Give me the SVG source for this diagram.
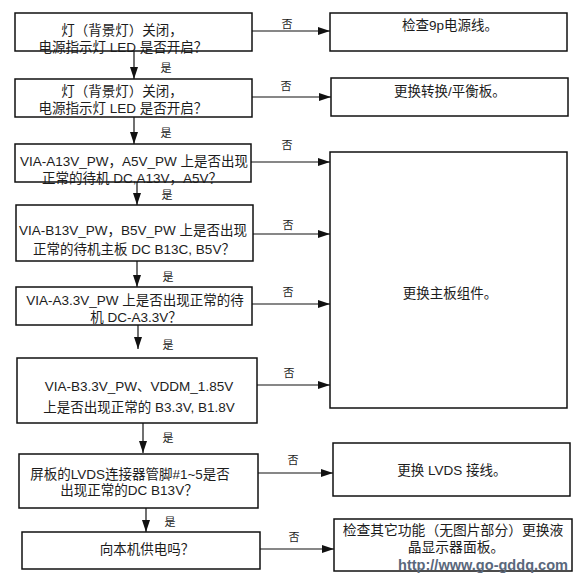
<svg xmlns="http://www.w3.org/2000/svg" width="578" height="581" viewBox="0 0 578 581">
<style>
.box{fill:#fff;stroke:#111;stroke-width:1.5}
.t{font-family:"Liberation Sans","Noto Sans CJK SC",sans-serif;font-size:13.5px;fill:#1c1c1c;text-anchor:middle}
.lbl{font-family:"Liberation Sans","Noto Sans CJK SC",sans-serif;font-size:11px;fill:#1c1c1c;text-anchor:middle}
.c{stroke:#111;stroke-width:1.2;fill:none;marker-end:url(#ah)}
.wm{font-family:"Liberation Sans",sans-serif;font-weight:bold;font-size:14.5px;fill:#5a687c}
</style>
<defs>
<marker id="ah" markerUnits="userSpaceOnUse" markerWidth="12" markerHeight="8" refX="12" refY="4" orient="auto">
<path d="M0,0 L12,4 L0,8 z" fill="#111"/>
</marker>
</defs>
<rect width="578" height="581" fill="#fff"/>
<g id="connectors">
<line class="c" x1="134" y1="51" x2="134" y2="79"/>
<line class="c" x1="134" y1="117" x2="134" y2="144"/>
<line class="c" x1="137" y1="182" x2="137" y2="205"/>
<line class="c" x1="137" y1="261" x2="137" y2="287"/>
<line class="c" x1="138" y1="325" x2="138" y2="349"/>
<line class="c" x1="143" y1="423" x2="143" y2="453"/>
<line class="c" x1="146" y1="508" x2="146" y2="532"/>
<line class="c" x1="252" y1="31" x2="330" y2="31"/>
<line class="c" x1="252" y1="97" x2="331" y2="97"/>
<line class="c" x1="251" y1="162" x2="330" y2="162"/>
<line class="c" x1="253" y1="234" x2="330" y2="234"/>
<line class="c" x1="252" y1="304" x2="330" y2="304"/>
<line class="c" x1="257" y1="385" x2="330" y2="385"/>
<line class="c" x1="258" y1="473" x2="333" y2="473"/>
<line class="c" x1="260" y1="549" x2="334" y2="549"/>
<text class="lbl" x="166" y="72">是</text>
<text class="lbl" x="166" y="137">是</text>
<text class="lbl" x="167" y="199">是</text>
<text class="lbl" x="168" y="281">是</text>
<text class="lbl" x="168" y="349">是</text>
<text class="lbl" x="168" y="442">是</text>
<text class="lbl" x="170" y="526">是</text>
<text class="lbl" x="287" y="28">否</text>
<text class="lbl" x="286" y="90">否</text>
<text class="lbl" x="287" y="149">否</text>
<text class="lbl" x="288" y="229">否</text>
<text class="lbl" x="288" y="296">否</text>
<text class="lbl" x="289" y="377">否</text>
<text class="lbl" x="293" y="464">否</text>
<text class="lbl" x="294" y="541">否</text>
</g>
<g id="q1">
<rect class="box" x="15" y="13" width="237" height="38"/>
<text class="t" x="122" y="35">灯（背景灯）关闭，</text>
<text class="t" x="123" y="52">电源指示灯 LED 是否开启？</text>
</g>
<g id="q2">
<rect class="box" x="15" y="79" width="237" height="38"/>
<text class="t" x="122" y="96">灯（背景灯）关闭，</text>
<text class="t" x="123" y="113">电源指示灯 LED 是否开启？</text>
</g>
<g id="q3">
<rect class="box" x="15" y="144" width="236" height="38"/>
<text class="t" x="134" y="166">VIA-A13V_PW，A5V_PW 上是否出现</text>
<text class="t" x="132" y="183">正常的待机 DC,A13V，A5V？</text>
</g>
<g id="q4">
<rect class="box" x="16" y="205" width="237" height="56"/>
<text class="t" x="133" y="235">VIA-B13V_PW，B5V_PW 上是否出现</text>
<text class="t" x="134" y="254">正常的待机主板 DC B13C, B5V？</text>
</g>
<g id="q5">
<rect class="box" x="16" y="287" width="236" height="38"/>
<text class="t" x="135" y="305">VIA-A3.3V_PW 上是否出现正常的待</text>
<text class="t" x="136" y="322">机 DC-A3.3V？</text>
</g>
<g id="q6">
<rect class="box" x="17" y="358" width="240" height="65"/>
<text class="t" x="139" y="391">VIA-B3.3V_PW、VDDM_1.85V</text>
<text class="t" x="139" y="412">上是否出现正常的 B3.3V, B1.8V</text>
</g>
<g id="q7">
<rect class="box" x="19" y="454" width="239" height="54"/>
<text class="t" x="130" y="479">屏板的LVDS连接器管脚#1~5是否</text>
<text class="t" x="129" y="495">出现正常的DC B13V？</text>
</g>
<g id="q8">
<rect class="box" x="22" y="532" width="238" height="37"/>
<text class="t" x="147" y="554">向本机供电吗？</text>
</g>
<g id="r1">
<rect class="box" x="330" y="13" width="237" height="38"/>
<text class="t" x="450" y="30">检查9p电源线。</text>
</g>
<g id="r2">
<rect class="box" x="331" y="78" width="237" height="38"/>
<text class="t" x="450" y="96">更换转换/平衡板。</text>
</g>
<g id="r3">
<rect class="box" x="330" y="152" width="237" height="256"/>
<text class="t" x="450" y="298">更换主板组件。</text>
</g>
<g id="r4">
<rect class="box" x="333" y="443" width="237" height="53"/>
<text class="t" x="452" y="475">更换 LVDS 接线。</text>
</g>
<g id="r5">
<rect class="box" x="334" y="519" width="238" height="52"/>
<text class="t" x="453" y="535" style="font-size:13.8px">检查其它功能（无图片部分）更换液</text>
<text class="t" x="456" y="552" style="font-size:13.8px">晶显示器面板。</text>
<text class="wm" x="398" y="570" textLength="170" lengthAdjust="spacingAndGlyphs">http://www.go-gddq.com</text>
</g>
</svg>
